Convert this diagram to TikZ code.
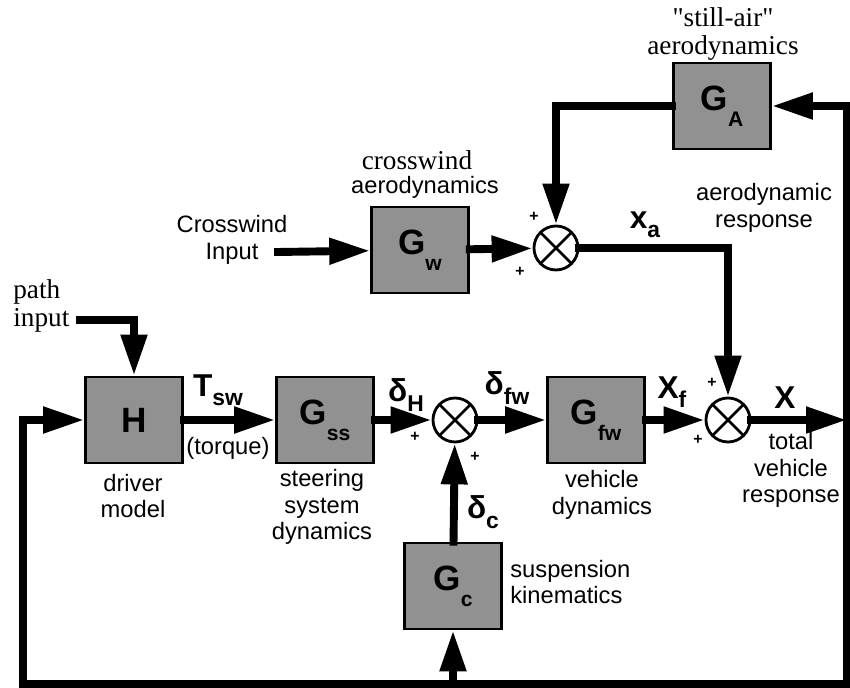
\documentclass[tikz,border=0pt]{standalone}
\usepackage{fontspec}
\setmainfont{Liberation Sans}
\newfontfamily\timesfont{Liberation Serif}
\usetikzlibrary{arrows.meta}
\newcommand\blocklabel[2]{#1\raisebox{-0.45em}{\fontsize{12}{12}\selectfont #2}}
\newcommand\varlabel[2]{#1\raisebox{-0.3em}{\fontsize{13}{13}\selectfont #2}}

\tikzset{
	block/.style={draw, line width=1.5pt, fill=black!43, minimum width=1.94cm, minimum height=1.72cm, inner sep=0pt, font=\bfseries\fontsize{20}{20}\selectfont},
	sumnode/.style={circle, draw, line width=1.6pt, minimum size=0.88cm, inner sep=0pt,
		path picture={\draw[line width=1.6pt] (path picture bounding box.north west) -- (path picture bounding box.south east)
			(path picture bounding box.north east) -- (path picture bounding box.south west);}},
	wire/.style={line width=4.5pt, line cap=rect},
	sig/.style={wire, -{Triangle[length=0.82cm,width=0.5cm]}},
	lbl/.style={align=center, inner sep=0pt, font=\fontsize{13.5}{15}\selectfont},
	seriflbl/.style={align=center, inner sep=0pt, font=\timesfont\fontsize{15.5}{16}\selectfont},
	var/.style={inner sep=0pt, font=\bfseries\fontsize{18}{18}\selectfont},
	plus/.style={inner sep=0pt, font=\bfseries\fontsize{9}{9}\selectfont}
}

\begin{document}
\begin{tikzpicture}[x=0.02cm, y=-0.02cm]
	%%%%% START %%%%%
	\useasboundingbox (0,0) rectangle (850,688);
	
	% blocks
	\node[block] (GA) at (722,106) {\blocklabel{G}{A}};
	\node[block] (Gw) at (420,250) {\blocklabel{G}{w}};
	\node[block] (H) at (134,420) {H};
	\node[block] (Gss) at (325,420) {\blocklabel{G}{ss}};
	\node[block] (Gfw) at (596,420) {\blocklabel{G}{fw}};
	\node[block] (Gc) at (453,586) {\blocklabel{G}{c}};
	
	% summing points
	\node[sumnode] (sumA) at (556,248) {};
	\node[sumnode] (sumB) at (455,420) {};
	\node[sumnode] (sumC) at (728,420) {};
	
	\coordinate (pathin) at (80,320);
	\coordinate (windin) at (278,252);
	\coordinate (xout) at (847,420);
	\coordinate (rbot) at (847,684);
	\coordinate (lbot) at (23,684);
	\coordinate (mbot) at (453,684);
	
	% signal lines
	\draw[sig] (pathin) -| (H.north);
	\draw[sig] (windin) -- (Gw);
	\draw[sig] (Gw) -- (sumA);
	\draw[sig] (GA.west) -| (sumA.north);
	\draw[sig] (sumA.east) -| (sumC.north);
	\draw[sig] (H) -- (Gss);
	\draw[sig] (Gss) -- (sumB);
	\draw[sig] (sumB) -- (Gfw);
	\draw[sig] (Gfw) -- (sumC);
	\draw[sig] (sumC) -- (xout);
	\draw[sig] (Gc) -- (sumB);
	
	% feedback
	\draw[sig] (rbot) |- (GA.east);
	\draw[sig] (rbot) -- (lbot) |- (H.west);
	\draw[sig] (mbot) -- (Gc.south);
	
	% signal names
	\node[var] (Tsw) at (218,390) {\varlabel{T}{sw}};
	\node[var] (dH) at (406,395) {\varlabel{δ}{H}};
	\node[var] (dfw) at (507,388) {\varlabel{δ}{fw}};
	\node[var] (xf) at (672,392) {\varlabel{X}{f}};
	\node[var] (xtot) at (785,398) {X};
	\node[var] (xa) at (645,225) {\varlabel{x}{a}};
	\node[var] (dc) at (483,512) {\varlabel{δ}{c}};
	
	% signs
	\node[plus] (pA1) at (534,217) {+};
	\node[plus] (pA2) at (520,272) {+};
	\node[plus] (pB1) at (415,437) {+};
	\node[plus] (pB2) at (475,457) {+};
	\node[plus] (pC1) at (712,383) {+};
	\node[plus] (pC2) at (698,440) {+};
	
	% texts
	\node[seriflbl] (stilltext) at (723,34) {"still-air"\\aerodynamics};
	\node[seriflbl] (crosstext) at (417,160) {crosswind};
	\node[lbl] (crossaero) at (425,187) {aerodynamics};
	\node[lbl] (windtext) at (232,240) {Crosswind\\Input};
	\node[seriflbl, align=left, anchor=west] (pathtext) at (13,306) {path\\input};
	\node[lbl] (drivertext) at (133,496) {driver\\model};
	\node[lbl] (torquetext) at (228,448) {(torque)};
	\node[lbl] (steertext) at (322,507) {steering\\system\\dynamics};
	\node[lbl] (vehtext) at (602,495) {vehicle\\dynamics};
	\node[lbl] (totaltext) at (791,470) {total\\vehicle\\response};
	\node[lbl, align=left, anchor=west] (susptext) at (510,582) {suspension\\kinematics};
	\node[lbl] (aerotext) at (764,208) {aerodynamic\\response};
	%%%%% END %%%%%
\end{tikzpicture}
\end{document}
